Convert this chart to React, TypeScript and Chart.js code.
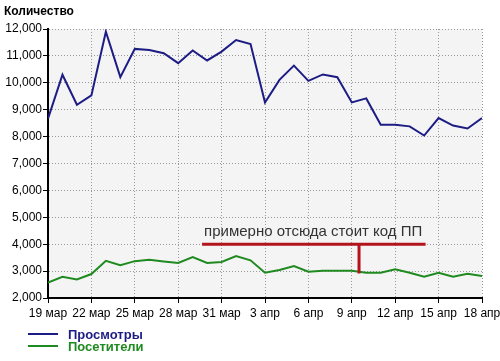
import React, { useEffect, useRef } from "react";
import { Chart, registerables } from "chart.js";

Chart.register(...registerables);

const dates = [
  "19 мар", "20 мар", "21 мар", "22 мар", "23 мар", "24 мар", "25 мар", "26 мар",
  "27 мар", "28 мар", "29 мар", "30 мар", "31 мар", "1 апр", "2 апр", "3 апр",
  "4 апр", "5 апр", "6 апр", "7 апр", "8 апр", "9 апр", "10 апр", "11 апр",
  "12 апр", "13 апр", "14 апр", "15 апр", "16 апр", "17 апр", "18 апр",
];

const views = [
  8670, 10300, 9185, 9530, 11900, 10210, 11260, 11220, 11100, 10730, 11200,
  10830, 11160, 11590, 11440, 9270, 10110, 10640, 10070, 10310, 10210, 9270,
  9420, 8440, 8440, 8380, 8040, 8690, 8410, 8300, 8690,
];

const visitors = [
  2570, 2790, 2690, 2890, 3380, 3220, 3370, 3420, 3360, 3300, 3520, 3300,
  3340, 3560, 3400, 2940, 3040, 3190, 2980, 3010, 3010, 3010, 2940, 2940,
  3070, 2940, 2790, 2940, 2790, 2900, 2820,
];

const seriesNames = ["Просмотры", "Посетители"];
const axisTitle = "Количество";
const yRange = [2000, 12000];
const yStep = 1000;
const xStep = 3;

const noteText = "примерно отсюда стоит код ПП";
const noteLevel = 4000;
const noteSpan = [10.65, 26.1];
const noteMarker = [21.5, 2910];

const FONT = "'Liberation Sans', Arial, sans-serif";

export default function App() {
  const ref = useRef<HTMLCanvasElement | null>(null);

  useEffect(() => {
    document.body.style.margin = "0";
    const canvas = ref.current;
    if (!canvas) return;

    const decor = {
      id: "decor",
      beforeDraw(chart: any) {
        const { ctx, chartArea: a } = chart;
        ctx.save();
        ctx.fillStyle = "#ffffff";
        ctx.fillRect(0, 0, chart.width, chart.height);
        ctx.fillStyle = "#f4f4f4";
        ctx.fillRect(a.left, a.top, a.right - a.left, a.bottom - a.top);
        ctx.restore();
      },
      afterDatasetsDraw(chart: any) {
        const { ctx } = chart;
        const xs = chart.scales.x;
        const ys = chart.scales.y;
        const yL = ys.getPixelForValue(noteLevel);
        const x1 = xs.getPixelForValue(noteSpan[0]);
        const x2 = xs.getPixelForValue(noteSpan[1]);
        const xm = xs.getPixelForValue(noteMarker[0]);
        const ym = ys.getPixelForValue(noteMarker[1]);
        ctx.save();
        ctx.strokeStyle = "#b3141c";
        ctx.lineWidth = 3;
        ctx.beginPath();
        ctx.moveTo(x1, yL);
        ctx.lineTo(x2, yL);
        ctx.moveTo(xm, yL);
        ctx.lineTo(xm, ym);
        ctx.stroke();
        ctx.fillStyle = "#333333";
        ctx.font = `15px ${FONT}`;
        ctx.textBaseline = "alphabetic";
        ctx.textAlign = "left";
        ctx.fillText(noteText, x1 + 2, yL - 8);
        ctx.restore();
      },
      afterDraw(chart: any) {
        const { ctx } = chart;
        ctx.save();
        ctx.fillStyle = "#000";
        ctx.font = `bold 12px ${FONT}`;
        ctx.textBaseline = "middle";
        ctx.textAlign = "left";
        ctx.fillText(axisTitle, 4, 12);
        chart.data.datasets.forEach((ds: any, i: number) => {
          const y = 334 + i * 12;
          ctx.strokeStyle = ds.borderColor;
          ctx.lineWidth = 2;
          ctx.beginPath();
          ctx.moveTo(28, y);
          ctx.lineTo(58, y);
          ctx.stroke();
          ctx.fillStyle = ds.borderColor;
          ctx.font = `bold 13px ${FONT}`;
          ctx.fillText(ds.label, 68, y + 1);
        });
        ctx.restore();
      },
    };

    const grid = {
      color: "#9a9a9a",
      lineWidth: 1,
      tickColor: "#000",
      tickLength: 5,
      tickWidth: 1,
    };
    const border = { color: "#000", width: 2, dash: [1, 2] };

    const chart = new Chart(canvas, {
      type: "line",
      data: {
        datasets: [
          {
            label: seriesNames[0],
            data: views.map((v, i) => ({ x: i, y: v })),
            borderColor: "#1c1c84",
            borderWidth: 2,
            pointRadius: 0,
            tension: 0,
            fill: false,
          },
          {
            label: seriesNames[1],
            data: visitors.map((v, i) => ({ x: i, y: v })),
            borderColor: "#1f8a1f",
            borderWidth: 2,
            pointRadius: 0,
            tension: 0,
            fill: false,
          },
        ],
      },
      options: {
        responsive: false,
        animation: false,
        layout: { padding: { top: 29, right: 18, left: 0, bottom: 0 } },
        plugins: {
          legend: { display: false },
          title: { display: false },
          tooltip: { enabled: false },
        },
        scales: {
          x: {
            type: "linear",
            min: 0,
            max: dates.length - 1,
            grid,
            border,
            ticks: {
              stepSize: xStep,
              autoSkip: false,
              maxRotation: 0,
              color: "#000",
              padding: 3,
              font: { family: FONT, size: 12 },
              callback: (v: any) => dates[v as number] ?? "",
            },
            afterFit: (s: any) => {
              s.height = 63;
              s.paddingRight = 0;
              s.paddingLeft = 0;
            },
          },
          y: {
            min: yRange[0],
            max: yRange[1],
            grid,
            border,
            ticks: {
              stepSize: yStep,
              color: "#000",
              padding: 1,
              font: { family: FONT, size: 12 },
              callback: (v: any) => Number(v).toLocaleString("en-US"),
            },
            afterFit: (s: any) => {
              s.width = 48;
            },
          },
        },
      },
      plugins: [decor],
    } as any);

    return () => chart.destroy();
  }, []);

  return (
    <div style={{ width: 500, height: 361 }}>
      <canvas ref={ref} width={500} height={361} />
    </div>
  );
}
